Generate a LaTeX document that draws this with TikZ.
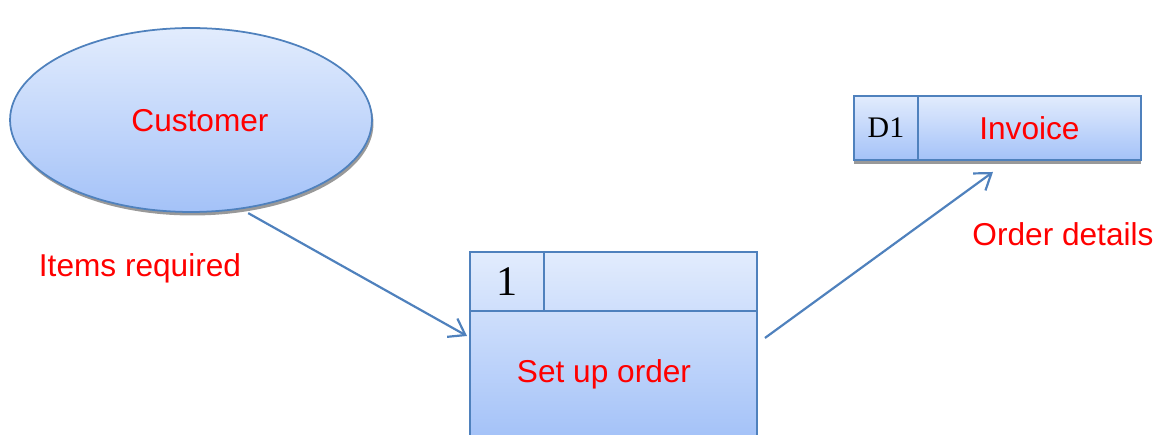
\documentclass[tikz,border=0pt]{standalone}
\usepackage{fontspec}
\setmainfont{Liberation Sans}
\newfontfamily\numfont{Liberation Serif}
\usetikzlibrary{shapes.geometric,shadows,arrows.meta}
\definecolor{dfdline}{HTML}{4F81BD}
\definecolor{dfdtop}{HTML}{E2ECFD}
\definecolor{dfdbottom}{HTML}{A4C2F8}

\begin{document}
\begin{tikzpicture}[x=0.02cm,y=-0.02cm,
    shapefill/.style={draw=dfdline,line width=1pt,top color=dfdtop,bottom color=dfdbottom},
    cell/.style={draw=dfdline,line width=1pt,rectangle,inner sep=0pt,outer sep=0pt},
    redtext/.style={text=red,font=\fontsize{18}{20}\selectfont,inner sep=0pt},
    flow/.style={draw=dfdline,line width=1.25pt,-{Straight Barb[length=0.3cm,width=0.42cm]}}]
    \clip(0,0)rectangle(1167,435);

    % external entity
    \node[shapefill,ellipse,minimum width=7.24cm,minimum height=3.68cm,inner sep=0pt,
        drop shadow={shadow xshift=0.03cm,shadow yshift=-0.07cm,fill=black!40,opacity=1}](customer)at(191,120){};
    \node[redtext](customertext)at(200,121){Customer};

    % process
    \node[shapefill,rectangle,inner sep=0pt,outer sep=0pt,minimum width=5.74cm,minimum height=3.72cm,anchor=north west](proc)at(470,252){};
    \node[cell,minimum width=1.48cm,minimum height=1.18cm,anchor=north west,font=\numfont\fontsize{24}{26}\selectfont](pnum)at(proc.north west){1};
    \node[cell,minimum width=4.26cm,minimum height=1.18cm,anchor=north west](phead)at(pnum.north east){};
    \node[redtext](proctext)at(604,374){Set up order};

    % data store
    \node[shapefill,rectangle,inner sep=0pt,outer sep=0pt,minimum width=5.74cm,minimum height=1.28cm,anchor=north west,
        drop shadow={shadow xshift=0cm,shadow yshift=-0.08cm,fill=black!40,opacity=1}](store)at(854,96){};
    \node[cell,minimum width=1.28cm,minimum height=1.28cm,anchor=north west,font=\numfont\fontsize{17}{19}\selectfont](dnum)at(store.north west){D1};
    \node[cell,minimum width=4.46cm,minimum height=1.28cm,anchor=north west,text=red,font=\fontsize{18}{20}\selectfont](invoice)at(dnum.north east){Invoice};

    % data flows
    \draw[flow]([yshift=-0.1cm]customer.-57)--([xshift=-0.06cm,yshift=-1.68cm]proc.north west);
    \node[redtext](itemslabel)at(140,268){Items required};
    \draw[flow]([xshift=0.16cm,yshift=-1.72cm]proc.north east)--([xshift=-0.73cm,yshift=-0.24cm]invoice.south);
    \node[redtext](orderlabel)at(1063,234){Order details};
\end{tikzpicture}
\end{document}
